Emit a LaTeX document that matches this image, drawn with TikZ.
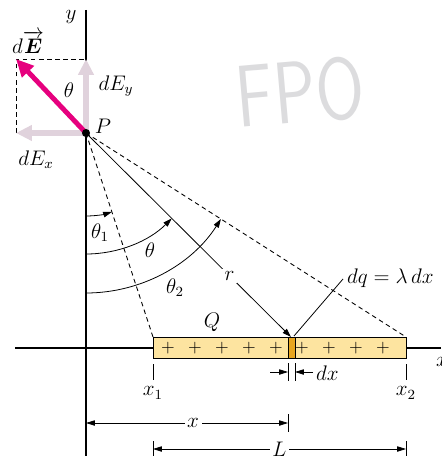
\documentclass[tikz,border=0pt]{standalone}
\usepackage{amsmath,amssymb,bm}
\usepackage{xcolor}
\usetikzlibrary{arrows.meta}

\definecolor{fieldpink}{RGB}{230,0,126}
\definecolor{comppink}{RGB}{224,210,220}
\definecolor{rodfill}{RGB}{253,228,160}
\definecolor{slicefill}{RGB}{232,165,30}
\definecolor{fpogray}{RGB}{220,220,222}

\begin{document}
\begin{tikzpicture}[
    x=0.02cm, y=-0.02cm,
    axis/.style={line width=0.6pt},
    guide/.style={
        dashed,
        dash pattern=on 2.6pt off 2pt,
        line width=0.5pt
    },
    thin line/.style={line width=0.45pt},
    angarrow/.style={
        -{Triangle[length=5pt,width=3.2pt]},
        line width=0.45pt
    },
    dimarrow/.style={
        -{Triangle[length=5pt,width=3pt]},
        line width=0.45pt
    },
    comp/.style={
        -{Triangle[length=9pt,width=8.5pt]},
        line width=3.4pt,
        comppink
    },
    field/.style={
        -{Triangle[length=10pt,width=9pt]},
        line width=2.8pt,
        fieldpink
    },
    lbl/.style={inner sep=1pt, font=\large},
    gap/.style={lbl, fill=white, inner sep=1.5pt},
    dot/.style={circle, fill=black, inner sep=0pt, minimum size=4.6pt}
]
\useasboundingbox (0,0) rectangle (441,456);

% Watermark
\node [rotate=5, yscale=1.25] (fpo) at (300,92)
    {\fontsize{40}{40}\selectfont\sffamily\color{fpogray}FPO};

% Key points
\coordinate (P) at (86,133);
\coordinate (A) at (153,337);
\coordinate (B) at (406,337);
\coordinate (S) at (291,337);

% Axes
\draw [axis] (15,348) -- (441,348);
\draw [axis] (86,10) -- (86,456);
\node [lbl] (ylab) at (71,17) {$y$};
\node [lbl, anchor=west] (xlab) at (434,362) {$x$};

% Rod with charge
\draw [thin line, fill=rodfill] (153,337) rectangle (406,358);
\draw [thin line, fill=slicefill] (288,337) rectangle (295,358);
\foreach \px in {168,195,222,249,276,302,329,356,383}
    \node [inner sep=1pt] at (\px,348) {$+$};
\node [lbl] (Q) at (212,322) {$Q$};

% Lines from P to the rod
\draw [guide] (P) -- (A);
\draw [guide] (P) -- (B);
\draw [angarrow] (P) -- (S) node [gap, pos=0.70] (rlab) {$r$};

% Angles
\draw [angarrow] (86,216) arc [start angle=90, end angle=71.8, radius=83];
\draw [angarrow] (86,254) arc [start angle=90, end angle=44.9, radius=121];
\draw [angarrow] (86,293) arc [start angle=90, end angle=32.5, radius=160];
\node [lbl] (th1) at (100,233) {$\theta_1$};
\node [lbl] (th) at (150,250) {$\theta$};
\node [lbl] (th2) at (175,288) {$\theta_2$};

% Charge element
\node [lbl, anchor=west] (dq) at (345,278) {$dq = \lambda\,dx$};
\draw [thin line] (343,279) -- (294,336);

% Field at P
\draw [guide] (16,133) -- (16,59) -- (86,59);
\draw [comp] (P) -- (86,59);
\draw [comp] (P) -- (16,133);
\draw [field] (P) -- (16,59);
\node [dot] (Pdot) at (P) {};
\node [lbl] (Plab) at (103,126) {$P$};
\node [lbl] (dE) at (28,42) {$d\overrightarrow{\boldsymbol{E}}$};
\node [lbl] (thP) at (69,90) {$\theta$};
\node [lbl] (dEy) at (116,86) {$dE_y$};
\node [lbl] (dEx) at (36,160) {$dE_x$};

% Ticks and labels under the rod
\draw [thin line] (153,364) -- (153,380);
\draw [thin line] (406,364) -- (406,380);
\draw [thin line] (288,363) -- (288,381);
\draw [thin line] (295,363) -- (295,381);
\node [lbl] (x1) at (153,393) {$x_1$};
\node [lbl] (x2) at (406,393) {$x_2$};
\draw [dimarrow] (270,372) -- (288,372);
\draw [dimarrow] (313,372) -- (295,372);
\node [lbl, anchor=west] (dxlab) at (314,373) {$dx$};

% Dimension x
\draw [thin line] (288,414) -- (288,432);
\draw [dimarrow, {Triangle[length=5pt,width=3pt]}-{Triangle[length=5pt,width=3pt]}] (86,423) -- (288,423)
    node [gap, pos=0.53] (xdim) {$x$};

% Dimension L
\draw [thin line] (153,441) -- (153,456);
\draw [thin line] (406,441) -- (406,456);
\draw [dimarrow, {Triangle[length=5pt,width=3pt]}-{Triangle[length=5pt,width=3pt]}] (153,449) -- (406,449)
    node [gap, pos=0.5] (Ldim) {$L$};

\end{tikzpicture}
\end{document}
